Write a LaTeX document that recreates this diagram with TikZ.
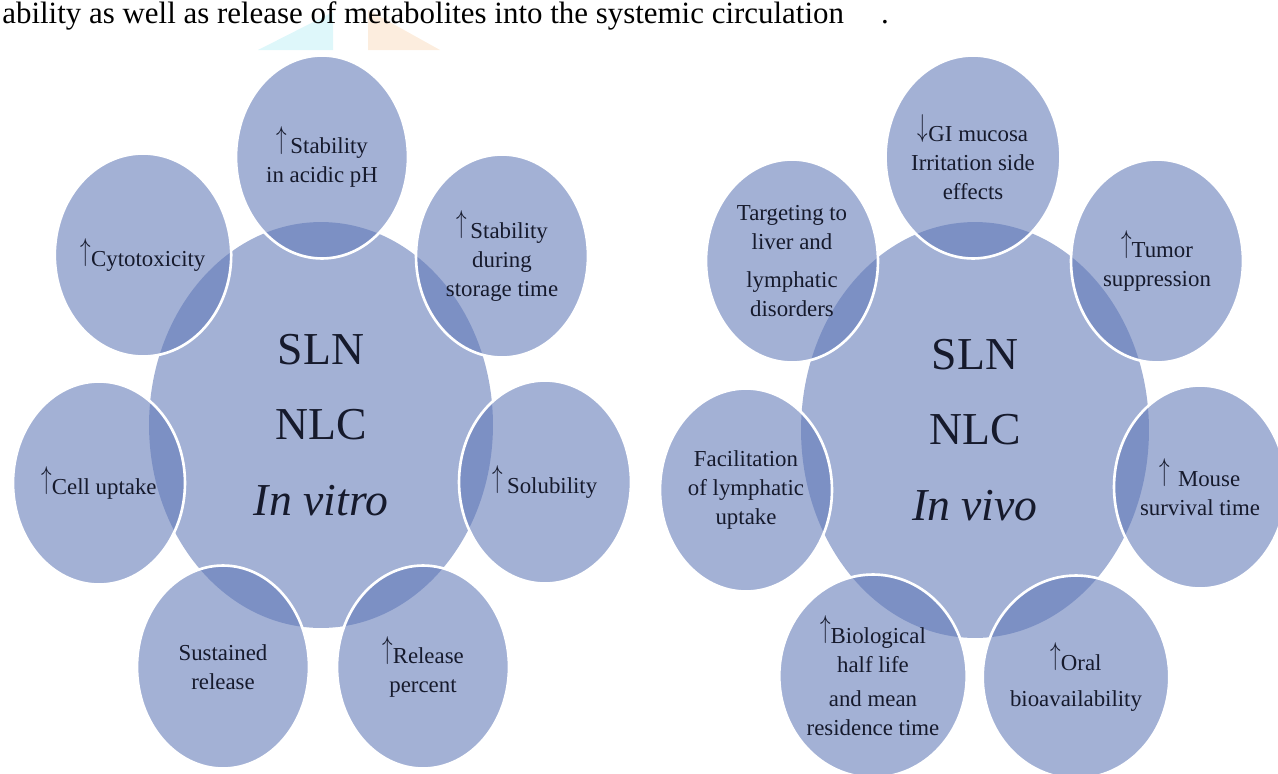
\documentclass[tikz,border=0pt]{standalone}
\usepackage{graphicx}
\usepackage{fontspec}
\setmainfont{Liberation Serif}
\usetikzlibrary{shapes.geometric}

\definecolor{bubblefill}{RGB}{98,122,184}
\definecolor{labeltext}{RGB}{22,26,44}
\definecolor{markcyan}{RGB}{190,240,246}
\definecolor{markorange}{RGB}{250,220,190}

\newcommand{\upar}{\raisebox{0.25em}{\scalebox{1}[1.5]{$\uparrow$}}}
\newcommand{\downar}{\raisebox{0.25em}{\scalebox{1}[1.5]{$\downarrow$}}}

\tikzset{
  bubble/.style={ellipse, draw=white, line width=1.5pt, fill=bubblefill,
    fill opacity=.59, text opacity=1, text=labeltext, inner sep=0pt,
    minimum width=3.44cm, minimum height=4.06cm, align=center,
    font=\fontsize{13}{16.5}\selectfont},
  hub/.style={ellipse, fill=bubblefill, fill opacity=.59, text opacity=1,
    text=labeltext, inner sep=0pt, align=center,
    font=\fontsize{26}{43}\selectfont},
}

\begin{document}
\begin{tikzpicture}[x=0.02cm,y=-0.02cm]
        \useasboundingbox (0,0) rectangle (1278,774);
        \clip (0,0) rectangle (1278,774);

        % line of the page above the figure
        \fill[markcyan, opacity=.5] (258,50) -- (333,12) -- (333,50) -- cycle;
        \fill[markorange, opacity=.5] (368,10) -- (368,50) -- (440,50) -- cycle;
        \node[anchor=base west, inner sep=0pt, font=\fontsize{17.6}{20}\selectfont] (pageline) at (2,23)
          {ability as well as release of metabolites into the systemic circulation\hspace{1.2em}.};

        % in vitro
        \node[hub, minimum width=6.88cm, minimum height=8.12cm] (vitro) at (321,425) {SLN\\NLC\\\textit{In vitro}};
        \node[bubble] (acid) at (322,157) {\upar\,Stability\\in acidic pH};
        \node[bubble] (storage) at (502,256) {\upar\,Stability\\during\\storage time};
        \node[bubble] (solub) at (545,482) {\upar\,Solubility};
        \node[bubble] (relpct) at (423,667) {\upar Release\\percent};
        \node[bubble] (sustain) at (223,667) {Sustained\\release};
        \node[bubble] (cellup) at (99,483) {\upar Cell uptake};
        \node[bubble] (cyto) at (143,255) {\upar Cytotoxicity};

        % in vivo
        \node[hub, minimum width=6.96cm, minimum height=8.32cm] (vivo) at (975,430) {SLN\\NLC\\\textit{In vivo}};
        \node[bubble] (gimuc) at (973,157) {\downar GI mucosa\\Irritation side\\effects};
        \node[bubble] (tumor) at (1157,261) {\upar Tumor\\suppression};
        \node[bubble] (mouse) at (1200,487) {\upar\,\,Mouse\\survival time};
        \node[bubble] (oral) at (1076,677) {\upar Oral\\[4pt]bioavailability};
        \node[bubble] (biohalf) at (873,676) {\upar Biological\\half life\\[3pt]and mean\\residence time};
        \node[bubble] (facil) at (746,490) {Facilitation\\of lymphatic\\uptake};
        \node[bubble] (target) at (792,261) {Targeting to\\liver and\\[5pt]lymphatic\\disorders};
\end{tikzpicture}
\end{document}
